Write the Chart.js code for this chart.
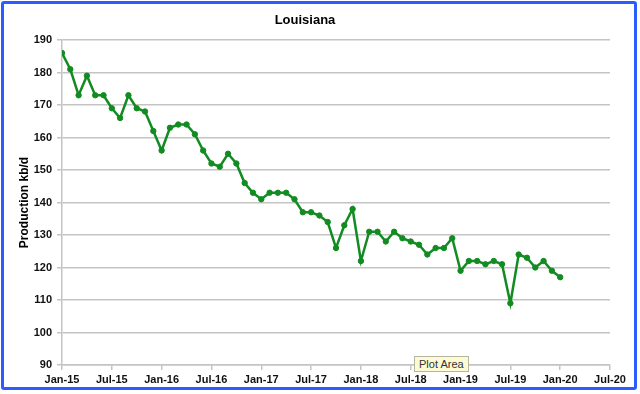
<!DOCTYPE html>
<html>
<head>
<meta charset="utf-8">
<script src="https://cdn.jsdelivr.net/npm/chart.js@4.4.1/dist/chart.umd.min.js"></script>
<style>
  html, body { margin: 0; padding: 0; background: #fff; }
  #wrap { position: relative; width: 640px; height: 394px; }
  #frame {
    position: absolute; left: 1px; top: 1px; width: 630px; height: 383px;
    border: 3px solid #2b5cff; border-radius: 3px;
  }
  #chart { position: absolute; left: 0; top: 0; }
  #tip {
    position: absolute; left: 414px; top: 356px;
    background: #fdfbd3; border: 1px solid #b5b5a0;
    font: 11px "Liberation Sans", Arial, sans-serif; color: #333;
    padding: 1px 4px; white-space: nowrap;
  }
</style>
</head>
<body>
<div id="wrap">
  <div id="frame"></div>
  <canvas id="chart" width="640" height="394"></canvas>
  <div id="tip">Plot Area</div>
</div>
<script>
// Produção mensal, Jan-15 .. Jan-20
const months = [
  "Jan-15","Feb-15","Mar-15","Apr-15","May-15","Jun-15","Jul-15","Aug-15","Sep-15","Oct-15","Nov-15","Dec-15",
  "Jan-16","Feb-16","Mar-16","Apr-16","May-16","Jun-16","Jul-16","Aug-16","Sep-16","Oct-16","Nov-16","Dec-16",
  "Jan-17","Feb-17","Mar-17","Apr-17","May-17","Jun-17","Jul-17","Aug-17","Sep-17","Oct-17","Nov-17","Dec-17",
  "Jan-18","Feb-18","Mar-18","Apr-18","May-18","Jun-18","Jul-18","Aug-18","Sep-18","Oct-18","Nov-18","Dec-18",
  "Jan-19","Feb-19","Mar-19","Apr-19","May-19","Jun-19","Jul-19","Aug-19","Sep-19","Oct-19","Nov-19","Dec-19",
  "Jan-20"
];
const production = [
  186, 181, 173, 179, 173, 173, 169, 166, 173, 169, 168, 162,
  156, 163, 164, 164, 161, 156, 152, 151, 155, 152, 146, 143,
  141, 143, 143, 143, 141, 137, 137, 136, 134, 126, 133, 138,
  122, 131, 131, 128, 131, 129, 128, 127, 124, 126, 126, 129,
  119, 122, 122, 121, 122, 121, 109, 124, 123, 120, 122, 119,
  117
];
const xTickLabels = ["Jan-15","Jul-15","Jan-16","Jul-16","Jan-17","Jul-17","Jan-18","Jul-18","Jan-19","Jul-19","Jan-20","Jul-20"];
const yMin = 90, yMax = 190, yStep = 10;

const green = "#128c22";
const gridColor = "#c4c4c4";
const tickFont = { family: "'Liberation Sans', Arial, sans-serif", size: 11, weight: "bold" };

new Chart(document.getElementById("chart"), {
  type: "line",
  data: {
    datasets: [{
      label: "Louisiana",
      data: production.map((v, i) => ({ x: i, y: v, m: months[i] })),
      borderColor: green,
      backgroundColor: green,
      pointBackgroundColor: green,
      pointBorderColor: green,
      pointRadius: 2.7,
      pointBorderWidth: 1,
      borderWidth: 2.5,
      tension: 0
    }]
  },
  options: {
    responsive: false,
    animation: false,
    layout: { padding: { left: 0, right: 30, top: 0, bottom: 0 } },
    plugins: {
      legend: { display: false },
      tooltip: { enabled: false },
      title: {
        display: true,
        text: "Louisiana",
        color: "#000",
        font: { family: "'Liberation Sans', Arial, sans-serif", size: 13, weight: "bold" },
        padding: { top: 13, bottom: 11.4 }
      }
    },
    scales: {
      x: {
        type: "linear",
        min: 0,
        max: (xTickLabels.length - 1) * 6,
        afterBuildTicks: s => { s.ticks = xTickLabels.map((_, i) => ({ value: i * 6 })); },
        ticks: {
          autoSkip: false,
          maxRotation: 0,
          padding: 3,
          color: "#111",
          font: tickFont,
          callback: v => xTickLabels[Math.round(v / 6)]
        },
        grid: { drawOnChartArea: false, drawTicks: true, tickLength: 5, color: gridColor, lineWidth: 1.5 },
        border: { color: gridColor, width: 1.5 },
        afterFit: s => { s.height = 29; }
      },
      y: {
        min: yMin,
        max: yMax,
        ticks: { stepSize: yStep, padding: 5, color: "#111", font: tickFont },
        grid: { color: gridColor, lineWidth: 1.5, tickLength: 5 },
        border: { color: gridColor, width: 1.5 },
        title: {
          display: true,
          text: "Production kb/d",
          color: "#000",
          font: { family: "'Liberation Sans', Arial, sans-serif", size: 12, weight: "bold" },
          padding: { top: 17, bottom: 0 }
        },
        afterFit: s => { s.width = 62; }
      }
    }
  }
});
</script>
</body>
</html>
